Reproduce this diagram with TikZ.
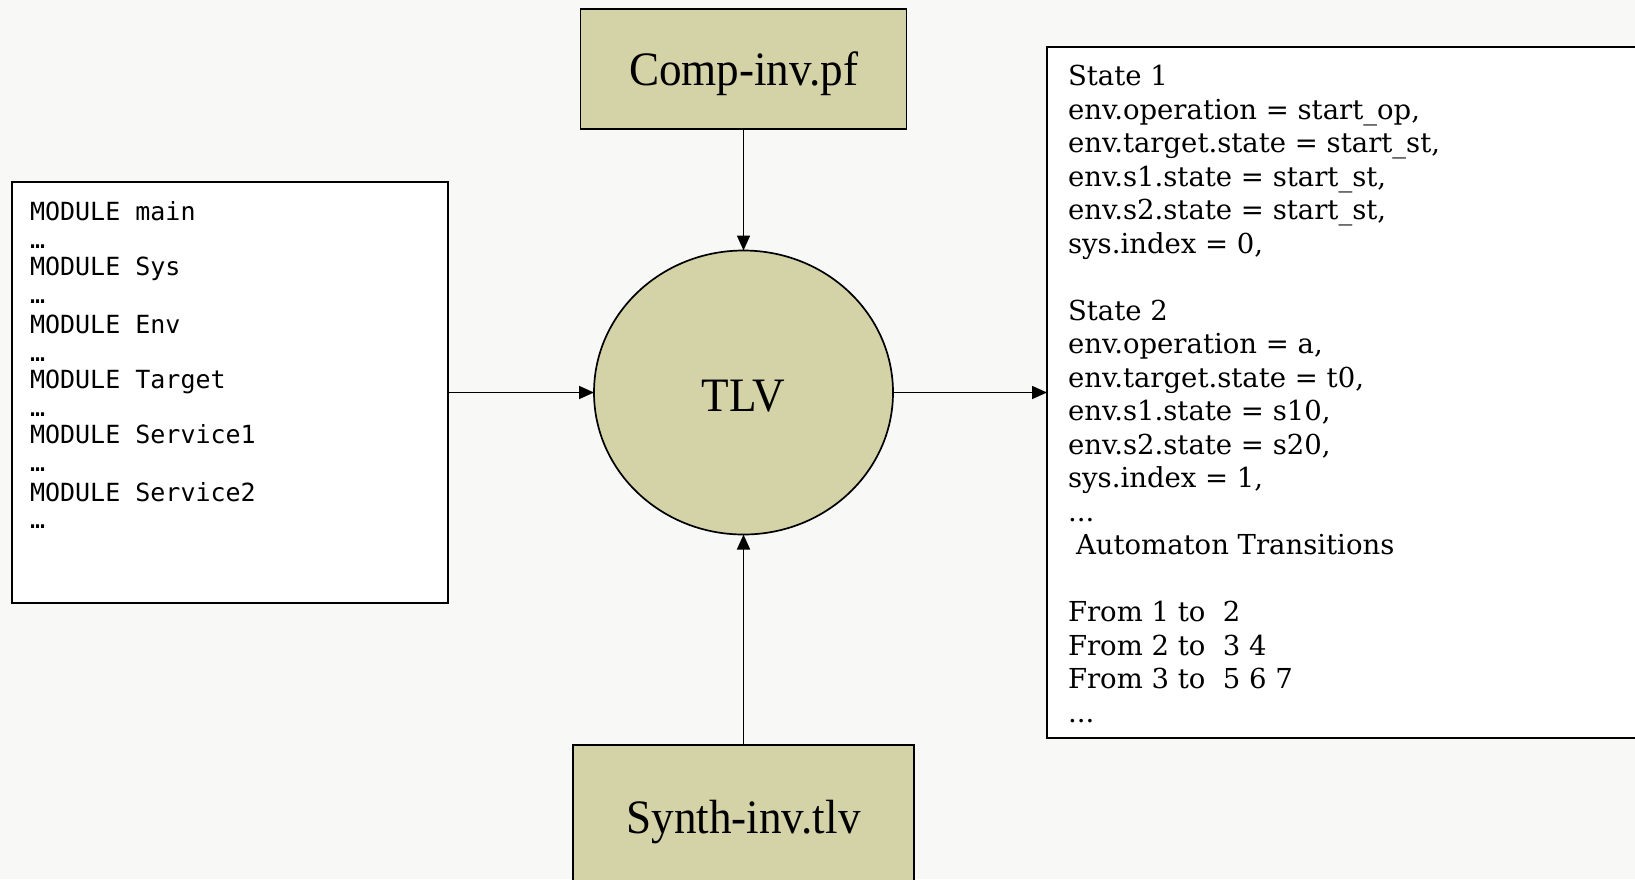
\documentclass[tikz,border=0pt]{standalone}
\usepackage{fontspec}
\setmainfont{Liberation Serif}
\newfontfamily\labelfont[FakeStretch=0.94]{Liberation Serif}
\newfontfamily\codefont{DejaVu Sans Mono}
\newfontfamily\tracefont{DejaVu Serif}
\usetikzlibrary{shapes.geometric,arrows.meta}
\definecolor{paper}{HTML}{F8F8F6}
\definecolor{khaki}{HTML}{D4D3A8}
\newcommand\mytdots{...}
\begin{document}
\begin{tikzpicture}[x=1pt,y=-1pt,
  every node/.style={inner sep=0pt, outer sep=0pt},
  filebox/.style={draw=black, line width=1.9pt, fill=khaki, rectangle,
    font=\labelfont\fontsize{48}{50}\selectfont, text height=32pt, text depth=0pt},
  procnode/.style={draw=black, line width=1.7pt, fill=khaki, ellipse,
    font=\labelfont\fontsize{48}{50}\selectfont, text height=37pt, text depth=0pt},
  listbox/.style={draw=black, line width=1.9pt, fill=white, rectangle},
  codeline/.style={anchor=base west, font=\codefont\fontsize{25}{28}\selectfont},
  traceline/.style={anchor=base west, font=\tracefont\fontsize{27.5}{33}\selectfont},
  conn/.style={line width=1.6pt, -{Triangle[length=15pt,width=13pt]}},
]
\fill[paper] (0,0) rectangle (1635,879);
\useasboundingbox (0,0) rectangle (1635,879);
\clip (0,0) rectangle (1635,879);

\node[filebox, minimum width=326pt, minimum height=120pt] (comp) at (743.5,69) {Comp-inv.pf};
\node[filebox, minimum width=341pt, minimum height=144pt] (synth) at (743.5,817) {Synth-inv.tlv};
\node[procnode, minimum width=299pt, minimum height=284pt] (tlv) at (743.5,392.5) {TLV};
\node[listbox, minimum width=436pt, minimum height=421pt] (src) at (230,392.5) {};
\node[listbox, minimum width=620pt, minimum height=691pt] (trace) at (1357,392.5) {};

\foreach \txt/\yy [count=\i] in {MODULE main/220.5, …/248, MODULE Sys/275, …/303,
  MODULE Env/333, …/361, MODULE Target/388, …/416, MODULE Service1/443, …/471,
  MODULE Service2/501, …/528}
  \node[codeline] (code\i) at (30,\yy) {\txt};

\foreach \txt/\xx/\row [count=\i] in {
  State 1/1068/0,
  env.operation = start\_op{,}/1068/1,
  env.target.state = start\_st{,}/1068/2,
  env.s1.state = start\_st{,}/1068/3,
  env.s2.state = start\_st{,}/1068/4,
  sys.index = 0{,}/1068/5,
  State 2/1068/7,
  env.operation = a{,}/1068/8,
  env.target.state = t0{,}/1068/9,
  env.s1.state = s10{,}/1068/10,
  env.s2.state = s20{,}/1068/11,
  sys.index = 1{,}/1068/12,
  \mytdots/1068/13,
  Automaton Transitions/1076/14,
  From 1 to~~2/1068/16,
  From 2 to~~3 4/1068/17,
  From 3 to~~5 6 7/1068/18,
  \mytdots/1068/19}
  \node[traceline] (tr\i) at (\xx,85.5+33.5*\row) {\txt};

\draw[conn] (comp) -- (tlv);
\draw[conn] (synth) -- (tlv);
\draw[conn] (src) -- (tlv);
\draw[conn] (tlv) -- (trace.west);
\end{tikzpicture}
\end{document}
